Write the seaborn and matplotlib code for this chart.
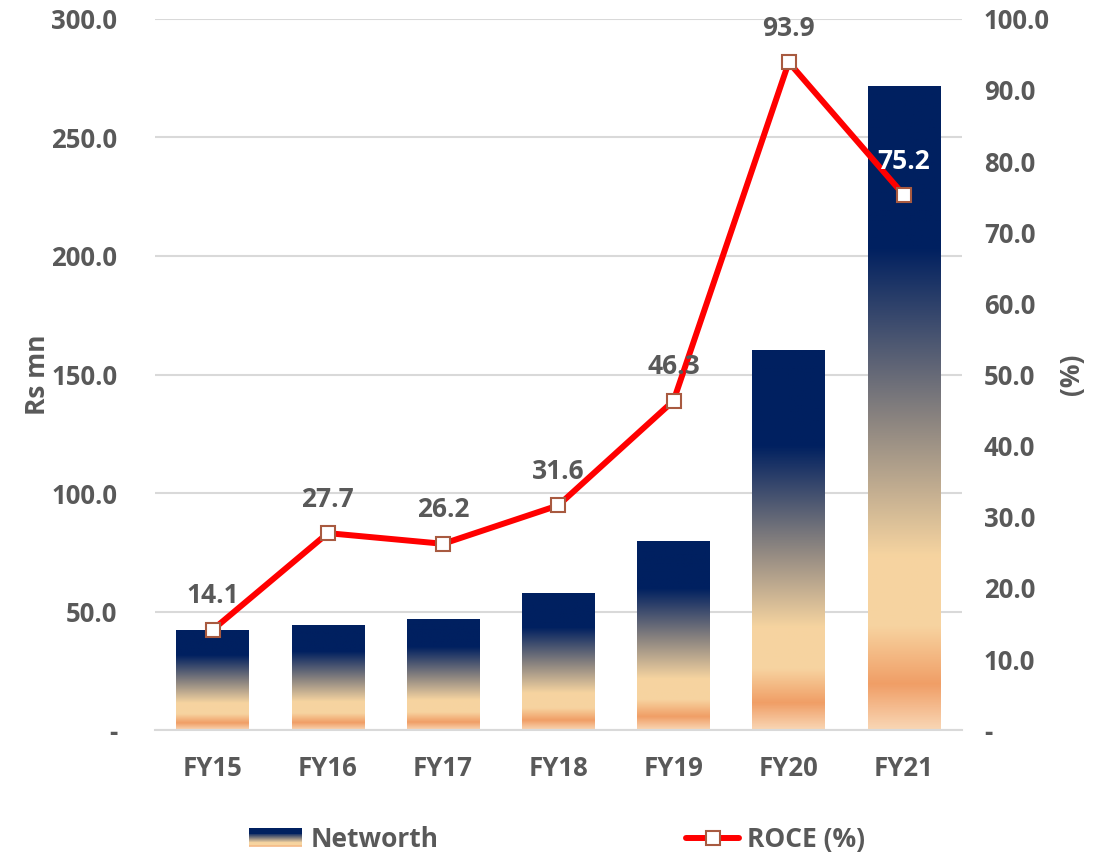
import numpy as np
import pandas as pd
import matplotlib
matplotlib.use("Agg")
import matplotlib.pyplot as plt
import seaborn as sns
from matplotlib.colors import LinearSegmentedColormap
from matplotlib.lines import Line2D
from matplotlib.patches import Rectangle
from matplotlib.legend_handler import HandlerBase

# data
years = ["FY15", "FY16", "FY17", "FY18", "FY19", "FY20", "FY21"]
networth = [41.8, 43.9, 46.8, 57.4, 79.3, 159.9, 271.3]
roce = [14.1, 27.7, 26.2, 31.6, 46.3, 93.9, 75.2]
left_ticks = [0, 50, 100, 150, 200, 250, 300]
right_ticks = [0, 10, 20, 30, 40, 50, 60, 70, 80, 90, 100]

grey = "#595959"
navy = "#002060"
fnt = "Open Sans"

# gradient of the bars, bottom -> top
grad_cmap = LinearSegmentedColormap.from_list("nw", [
    (0.0, "#F9D6B4"), (0.07, "#F09E66"), (0.16, "#F7D3A0"), (0.27, "#F6D4A0"),
    (0.48, "#8C8580"), (0.75, navy), (1.0, navy)])

sns.set_style("white")
plt.rcParams['font.family'] = [fnt, 'DejaVu Sans']
plt.rcParams['font.weight'] = 'bold'

df = pd.DataFrame({"Year": years, "Networth": networth, "ROCE": roce})

fig = plt.figure(figsize=(10.99, 8.57), dpi=100)
ax = fig.add_axes([0.141, 0.148, 0.734, 0.83])

sns.barplot(data=df, x="Year", y="Networth", ax=ax, width=0.63, color=navy, zorder=2)

grad = grad_cmap(np.linspace(0, 1, 256))[:, None, :]
for p in ax.patches:
    x0, w, h = p.get_x(), p.get_width(), p.get_height()
    ax.imshow(grad, extent=[x0, x0 + w, 0, h], origin="lower", aspect="auto", zorder=2)
    p.set_visible(False)

ax.set_xlim(-0.5, 6.5)
ax.set_ylim(0, 300)
ax.set_yticks(left_ticks)
ax.set_yticklabels(["-" if t == 0 else f"{t:.1f}" for t in left_ticks],
                   fontsize=18.5, fontweight="bold", color=grey)
ax.tick_params(axis="y", length=0, pad=27)
ax.tick_params(axis="x", length=0, pad=18)
for lb in ax.get_xticklabels():
    lb.set_fontweight("bold")
    lb.set_fontsize(18.5)
    lb.set_color(grey)
ax.yaxis.grid(True, color="#D9D9D9", lw=1.5, zorder=0)
ax.set_axisbelow(True)
for s in ["top", "right", "left"]:
    ax.spines[s].set_visible(False)
ax.spines["bottom"].set_color("#D9D9D9")
ax.spines["bottom"].set_linewidth(1.5)
ax.set_xlabel("")
ax.set_ylabel("Rs mn", fontsize=19, fontweight="bold", color=grey, labelpad=0)

ax2 = ax.twinx()
sns.lineplot(x=years, y=roce, ax=ax2, color="#FF0000", lw=4.3, marker="s", markersize=10,
             markerfacecolor="white", markeredgecolor="#A85A40", markeredgewidth=1.5, sort=False)
ax2.set_ylim(0, 100)
ax2.set_yticks(right_ticks)
ax2.set_yticklabels(["-" if t == 0 else f"{t:.1f}" for t in right_ticks],
                    fontsize=18.5, fontweight="bold", color=grey)
ax2.tick_params(axis="y", length=0, pad=16)
for s in ["top", "right", "left", "bottom"]:
    ax2.spines[s].set_visible(False)
ax2.set_ylabel("(%)", fontsize=19, fontweight="bold", color=grey, labelpad=6)

for i, v in enumerate(roce):
    c = "white" if i == len(roce) - 1 else grey
    ax2.annotate(f"{v:.1f}", (i, v), xytext=(0, 19), textcoords="offset points",
                 ha="center", va="baseline", fontsize=19, fontweight="bold", color=c)


class GradHandler(HandlerBase):
    def create_artists(self, legend, orig, xd, yd, width, height, fontsize, trans):
        n = 20
        arts = []
        for k in range(n):
            arts.append(Rectangle((xd, yd + height * k / n), width, height / n + 0.3,
                                  facecolor=grad_cmap((k + 0.5) / n), edgecolor="none",
                                  transform=trans))
        return arts


bar_handle = Rectangle((0, 0), 1, 1)
line_handle = Line2D([], [], color="#FF0000", lw=4.3, marker="s", markersize=10,
                     markerfacecolor="white", markeredgecolor="#A85A40", markeredgewidth=1.5)
fig.legend([bar_handle, line_handle], ["Networth", "ROCE (%)"],
           handler_map={bar_handle: GradHandler()},
           loc="center", bbox_to_anchor=(0.507, 0.02), ncol=2, frameon=False,
           columnspacing=9.4, handlelength=2.0, handletextpad=0.3,
           prop={"family": fnt, "weight": "bold", "size": 19}, labelcolor=grey)

fig.savefig("out.png", dpi=100)
